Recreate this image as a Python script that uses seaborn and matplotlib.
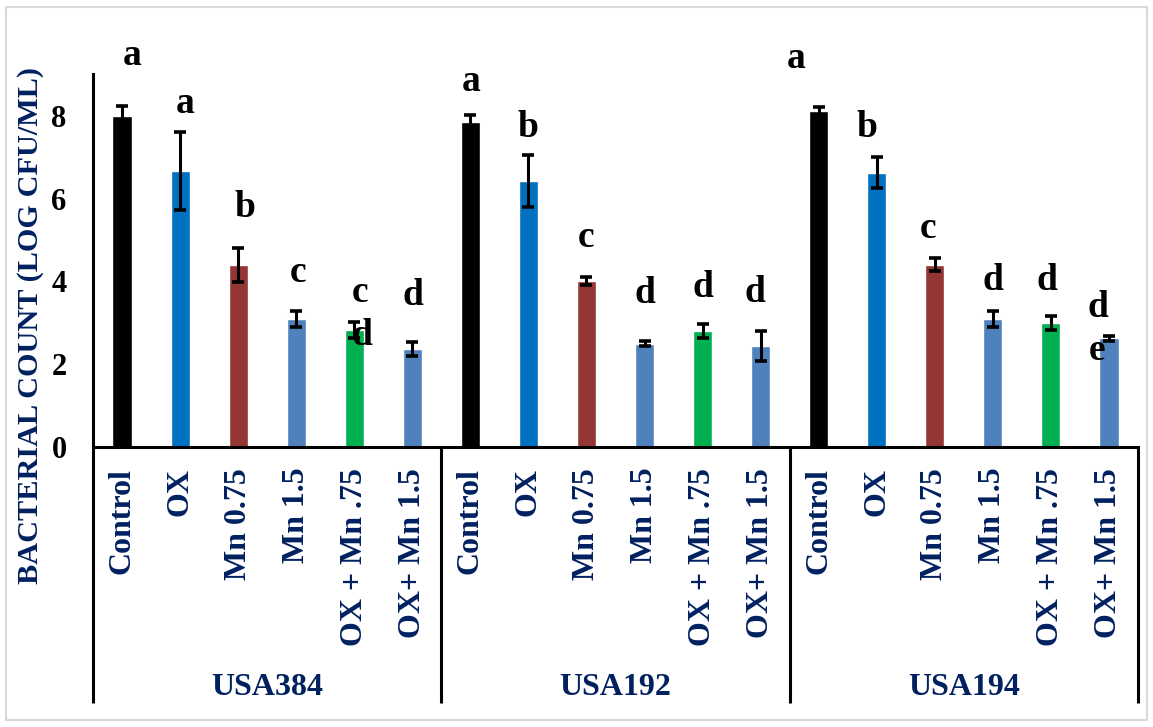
import numpy as np
import pandas as pd
import matplotlib
matplotlib.use("Agg")
import matplotlib.pyplot as plt
import matplotlib.patches as mpatches
import seaborn as sns

# ---- data -------------------------------------------------------------
strains = ["USA384", "USA192", "USA194"]
treatments = ["Control", "OX", "Mn 0.75", "Mn 1.5", "OX + Mn .75", "OX+ Mn 1.5"]

usa384_mean = [8.00, 6.67, 4.40, 3.09, 2.83, 2.36]
usa192_mean = [7.86, 6.43, 4.01, 2.50, 2.80, 2.44]
usa194_mean = [8.12, 6.63, 4.40, 3.09, 3.00, 2.63]

usa384_err = [0.24, 0.95, 0.41, 0.20, 0.20, 0.17]
usa192_err = [0.16, 0.63, 0.10, 0.05, 0.16, 0.36]
usa194_err = [0.10, 0.38, 0.16, 0.19, 0.17, 0.06]

# significance letters (one list per strain, several letters may share a bar)
usa384_letters = ["a", "a", "b", "c", "c", "d", "d"]
usa192_letters = ["a", "b", "c", "d", "d", "d"]
usa194_letters = ["a", "b", "c", "d", "d", "d", "e"]

y_ticks = [0, 2, 4, 6, 8]
y_title = "BACTERIAL COUNT (LOG CFU/ML)"

colors = {
    "Control": "#000000",
    "OX": "#0070C0",
    "Mn 0.75": "#943634",
    "Mn 1.5": "#4F81BD",
    "OX + Mn .75": "#00B050",
    "OX+ Mn 1.5": "#4F81BD",
}

# letter placement (x in category units, y = text baseline in data units)
letter_x = [0.17, 1.085, 2.12, 3.03, 4.10, 4.13, 5.01,
            6.02, 6.99, 8.00, 9.01, 10.01, 10.90,
            11.61, 12.83, 13.88, 15.00, 15.93, 16.81, 16.79]
letter_y = [9.23, 8.07, 5.56, 3.98, 3.50, 2.46, 3.43,
            8.61, 7.48, 4.84, 3.48, 3.62, 3.51,
            9.15, 7.48, 5.04, 3.79, 3.79, 3.15, 2.10]

# ---- table ------------------------------------------------------------
means = [usa384_mean, usa192_mean, usa194_mean]
errs = [usa384_err, usa192_err, usa194_err]
rows = []
for s, m, e in zip(strains, means, errs):
    for t, v, ev in zip(treatments, m, e):
        rows.append({"strain": s, "treatment": t, "slot": f"{s}|{t}",
                     "value": v, "err": ev})
df = pd.DataFrame(rows)
letters = usa384_letters + usa192_letters + usa194_letters

# ---- style ------------------------------------------------------------
sns.set_style("white")
plt.rcParams["font.family"] = ["Liberation Serif", "DejaVu Serif"]
plt.rcParams["font.weight"] = "bold"
navy = "#002060"

W, H = 1153, 727
fig = plt.figure(figsize=(W / 100, H / 100), dpi=100)
fig.patch.set_facecolor("white")
ax = fig.add_axes([93 / W, (H - 447) / H, 1045 / W, 372.6 / H])

sns.barplot(data=df, x="slot", y="value", hue="treatment", palette=colors,
            order=list(df["slot"]), hue_order=treatments, dodge=False,
            width=0.33, legend=False, errorbar=None, ax=ax, saturation=1)

pos = np.arange(len(df))
ax.errorbar(pos, df["value"], yerr=df["err"], fmt="none", ecolor="black",
            elinewidth=2.2, capsize=4.3, capthick=2.6, zorder=4)

ax.set_xlim(-0.5, len(df) - 0.5)
ax.set_ylim(0, 9)
ax.set_yticks(y_ticks)
ax.set_yticklabels([str(t) for t in y_ticks], fontsize=22, fontweight="bold",
                   color="black")
ax.tick_params(axis="y", length=0, pad=19)
ax.set_xticks(pos)
ax.set_xticklabels(df["treatment"], rotation=90, fontsize=23,
                   fontweight="bold", color=navy)
ax.tick_params(axis="x", length=0, pad=15)
ax.set_xlabel("")
ax.set_ylabel("")

for side in ["top", "right"]:
    ax.spines[side].set_visible(False)
for side in ["left", "bottom"]:
    ax.spines[side].set_linewidth(2.2)
    ax.spines[side].set_color("black")

# group separators under the category axis
depth = -(703 - 447) / 372.6
for xb in [-0.5, 5.5, 11.5, 17.5]:
    ax.axvline(xb, ymin=depth, ymax=0, color="black", lw=2.2, clip_on=False,
               solid_capstyle="butt")

# strain names centred under each group
for i, s in enumerate(strains):
    ax.text(i * 6 + 2.5, -(695 - 447) / 372.6, s, transform=ax.get_xaxis_transform(),
            ha="center", va="baseline", fontsize=23, fontweight="bold",
            color=navy)

# significance letters
for lx, ly, lt in zip(letter_x, letter_y, letters):
    ax.text(lx, ly, lt, ha="center", va="baseline", fontsize=27,
            fontweight="bold", color="black", clip_on=False, zorder=5)

fig.text(31 / W, 1 - 326 / H, y_title, rotation=90, ha="center", va="center",
         fontsize=21.8, fontweight="bold", color=navy)

# light chart border
fig.patches.append(mpatches.Rectangle((6 / W, 1 - 720 / H), 1141 / W, 713 / H,
                                      transform=fig.transFigure, fill=False,
                                      edgecolor="#d9d9d9", lw=1.5))

fig.savefig("out.png", dpi=100, facecolor="white")
